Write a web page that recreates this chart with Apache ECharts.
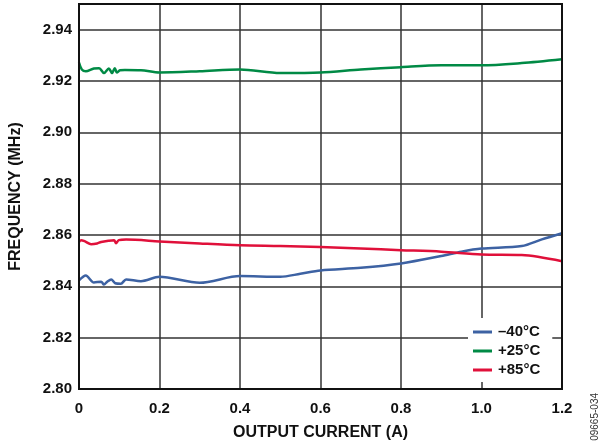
<!DOCTYPE html>
<html><head><meta charset="utf-8">
<script src="https://cdn.jsdelivr.net/npm/echarts@6/dist/echarts.min.js"></script>
<style>html,body{margin:0;padding:0;background:#fff}#c{width:600px;height:446px}</style>
</head><body><div id="c"></div>
<script>
var seriesNames = ['\u201340\u00b0C', '+25\u00b0C', '+85\u00b0C'];
var xTicks = [0, 0.2, 0.4, 0.6, 0.8, 1.0, 1.2];
var yTicks = [2.80, 2.82, 2.84, 2.86, 2.88, 2.90, 2.92, 2.94];
var blueX = [0, 0.017, 0.037, 0.055, 0.062, 0.07, 0.08, 0.09, 0.104, 0.117, 0.154, 0.2, 0.3, 0.4, 0.5, 0.55, 0.6, 0.7, 0.8, 0.9, 0.95, 1.0, 1.1, 1.15, 1.2];
var blueY = [2.8423, 2.8442, 2.8415, 2.8418, 2.8407, 2.8418, 2.8427, 2.8412, 2.8410, 2.8427, 2.8420, 2.8437, 2.8414, 2.8440, 2.8437, 2.8449, 2.8462, 2.8472, 2.8489, 2.8518, 2.8535, 2.8547, 2.8557, 2.8583, 2.8607];
var greenX = [0, 0.007, 0.017, 0.037, 0.05, 0.062, 0.074, 0.082, 0.089, 0.094, 0.102, 0.114, 0.154, 0.2, 0.3, 0.4, 0.5, 0.6, 0.7, 0.8, 0.9, 1.0, 1.1, 1.2];
var greenY = [2.9272, 2.9245, 2.9238, 2.9249, 2.9250, 2.9231, 2.9249, 2.9231, 2.9250, 2.9233, 2.9242, 2.9243, 2.9242, 2.9233, 2.9238, 2.9245, 2.9231, 2.9233, 2.9245, 2.9254, 2.9261, 2.9261, 2.9270, 2.9285];
var redX = [0, 0.005, 0.015, 0.03, 0.045, 0.055, 0.074, 0.087, 0.092, 0.099, 0.117, 0.2, 0.3, 0.4, 0.5, 0.6, 0.7, 0.8, 0.9, 1.0, 1.1, 1.2];
var redY = [2.8572, 2.8580, 2.8575, 2.8564, 2.8567, 2.8573, 2.8578, 2.8580, 2.8568, 2.8580, 2.8582, 2.8575, 2.8567, 2.8560, 2.8557, 2.8553, 2.8547, 2.8541, 2.8535, 2.8524, 2.8522, 2.8498];

function pairs(xs, ys) { return xs.map(function (x, i) { return [x, ys[i]]; }); }
var colors = ['#3d62a3', '#008a45', '#e0103a'];
var font = 'Liberation Sans, Arial, sans-serif';
var chart = echarts.init(document.getElementById('c'), null, {renderer: 'canvas'});
chart.setOption({
  animation: false,
  backgroundColor: '#fff',
  grid: {left: 78, right: 38, top: 4, bottom: 57, show: true, borderColor: '#111', borderWidth: 2, z: 10},
  xAxis: {
    type: 'value', min: 0, max: 1.2, interval: 0.2,
    name: 'OUTPUT CURRENT (A)', nameLocation: 'middle', nameGap: 36,
    nameTextStyle: {fontFamily: font, fontWeight: 'bold', fontSize: 16, color: '#111'},
    axisLine: {show: false}, axisTick: {show: false},
    axisLabel: {fontFamily: font, fontWeight: 'bold', fontSize: 15, color: '#111', margin: 12,
      formatter: function (v) { var t = xTicks.find(function (a) { return Math.abs(a - v) < 1e-6; }); return t === 0 ? '0' : t.toFixed(1); }},
    splitLine: {show: true, lineStyle: {color: '#333', width: 1.5}}
  },
  yAxis: {
    type: 'value', min: 2.80, max: 2.95, interval: 0.02,
    name: 'FREQUENCY (MHz)', nameLocation: 'middle', nameGap: 55,
    nameTextStyle: {fontFamily: font, fontWeight: 'bold', fontSize: 16, color: '#111'},
    axisLine: {show: false}, axisTick: {show: false},
    axisLabel: {fontFamily: font, fontWeight: 'bold', fontSize: 15, color: '#111', margin: 7,
      formatter: function (v) { var t = yTicks.find(function (a) { return Math.abs(a - v) < 1e-6; }); return t === undefined ? '' : t.toFixed(2); }},
    splitLine: {show: true, lineStyle: {color: '#333', width: 1.5}}
  },
  legend: {
    left: 468, top: 318, orient: 'vertical', itemGap: 3, itemWidth: 19, itemHeight: 3,
    padding: [6, 12, 4, 5],
    backgroundColor: '#fff', z: 20,
    icon: 'rect',
    textStyle: {fontFamily: font, fontWeight: 'bold', fontSize: 15, lineHeight: 16, color: '#111', padding: [0, 0, 0, 1]},
    data: seriesNames
  },
  series: [
    {name: seriesNames[0], type: 'line', data: pairs(blueX, blueY), smooth: 0.3, showSymbol: false, color: colors[0], lineStyle: {width: 2.5}},
    {name: seriesNames[1], type: 'line', data: pairs(greenX, greenY), smooth: 0.3, showSymbol: false, color: colors[1], lineStyle: {width: 2.5}},
    {name: seriesNames[2], type: 'line', data: pairs(redX, redY), smooth: 0.3, showSymbol: false, color: colors[2], lineStyle: {width: 2.5}}
  ],
  graphic: [{
    type: 'text', left: 590, top: 393, rotation: Math.PI / 2,
    style: {text: '09665-034', fontFamily: font, fontSize: 10, fill: '#333'}
  }]
});
</script></body></html>
